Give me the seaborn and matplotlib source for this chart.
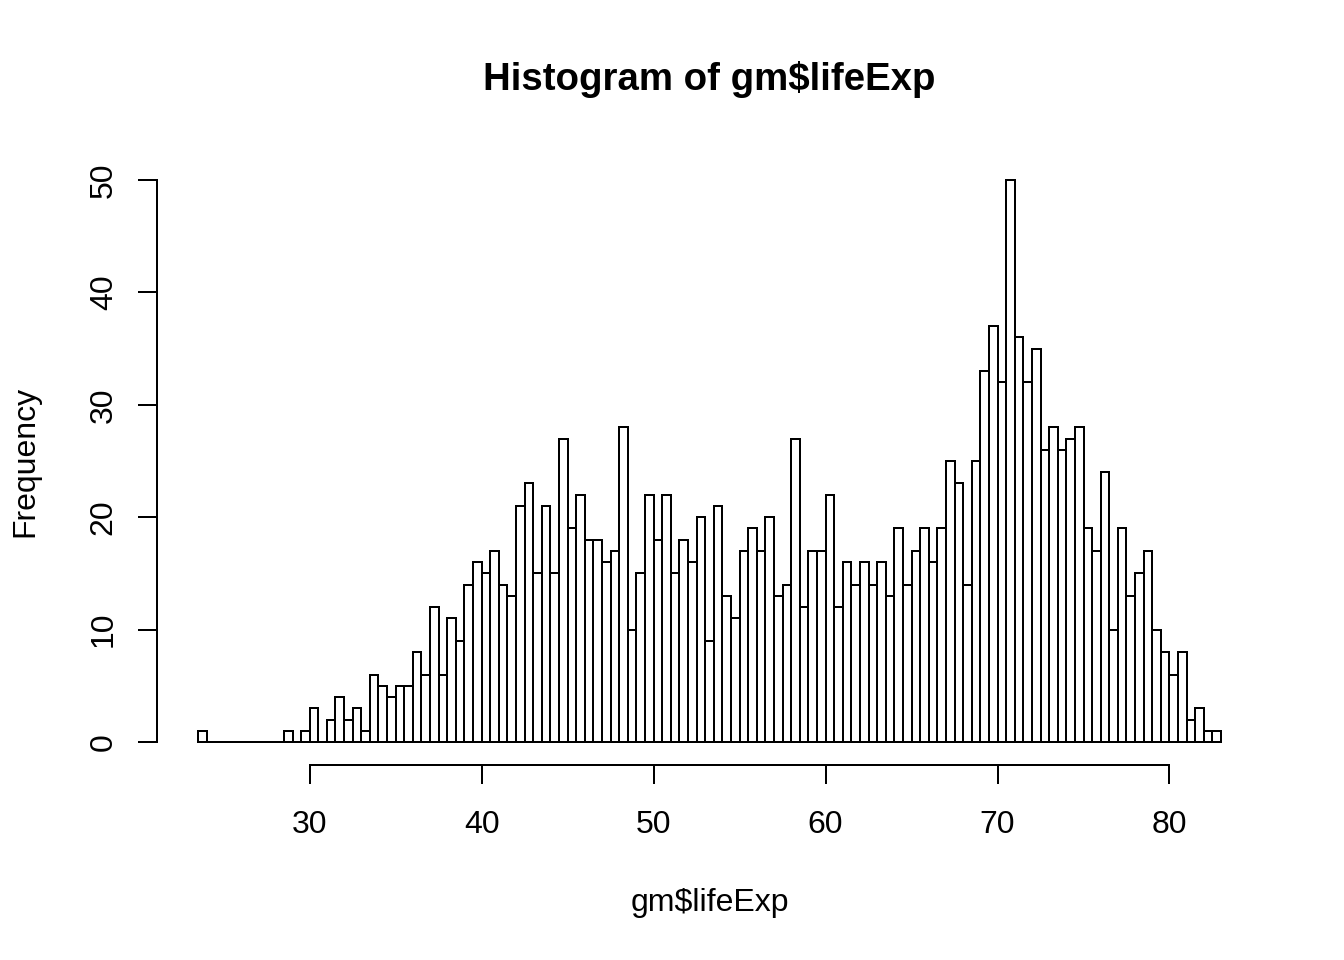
import numpy as np
import pandas as pd
import matplotlib
matplotlib.use('Agg')
import matplotlib.pyplot as plt
import seaborn as sns

# histogram of life expectancy, 0.5-year bins starting at 23.5
bin_start = 23.5
bin_width = 0.5
counts = [1, 0, 0, 0, 0, 0, 0, 0, 0, 0,
          1, 0, 1, 3, 0, 2, 4, 2, 3, 1,
          6, 5, 4, 5, 5, 8, 6, 12, 6, 11,
          9, 14, 16, 15, 17, 14, 13, 21, 23, 15,
          21, 15, 27, 19, 22, 18, 18, 16, 17, 28,
          10, 15, 22, 18, 22, 15, 18, 16, 20, 9,
          21, 13, 11, 17, 19, 17, 20, 13, 14, 27,
          12, 17, 17, 22, 12, 16, 14, 16, 14, 16,
          13, 19, 14, 17, 19, 16, 19, 25, 23, 14,
          25, 33, 37, 32, 50, 36, 32, 35, 26, 28,
          26, 27, 28, 19, 17, 24, 10, 19, 13, 15,
          17, 10, 8, 6, 8, 2, 3, 1, 1]
x_ticks = [30, 40, 50, 60, 70, 80]
y_ticks = [0, 10, 20, 30, 40, 50]

edges = bin_start + bin_width * np.arange(len(counts) + 1)
df = pd.DataFrame({'lifeExp': (edges[:-1] + edges[1:]) / 2, 'n': counts})

sns.set_theme(style='ticks')
plt.rcParams['font.family'] = ['Liberation Sans', 'DejaVu Sans']
plt.rcParams['text.color'] = 'black'
plt.rcParams['axes.labelcolor'] = 'black'
plt.rcParams['axes.edgecolor'] = 'black'
plt.rcParams['xtick.color'] = 'black'
plt.rcParams['ytick.color'] = 'black'

fig = plt.figure(figsize=(13.44, 9.6), dpi=100)
ax = fig.add_axes([157 / 1344, 1 - 764.5 / 960, 1105 / 1344, 607 / 960])

sns.histplot(data=df, x='lifeExp', weights='n', bins=edges.tolist(), ax=ax,
             color='white', edgecolor='black', linewidth=1.44, alpha=1)

ax.set_xlim(21.12, 85.38)
ax.set_ylim(-2, 52)
ax.set_xticks(x_ticks)
ax.set_yticks(y_ticks)
for s in ['top', 'right']:
    ax.spines[s].set_visible(False)
ax.spines['left'].set_bounds(0, 50)
ax.spines['bottom'].set_bounds(30, 80)
ax.spines['left'].set_linewidth(1.44)
ax.spines['bottom'].set_linewidth(1.44)
ax.tick_params(axis='both', length=13.8, width=1.44, labelsize=23,
               color='black', labelcolor='black')
ax.tick_params(axis='x', pad=19.3)
ax.tick_params(axis='y', pad=13.7, labelrotation=90)
for lab in ax.get_yticklabels():
    lab.set_va('center')

ax.set_xlabel('gm$lifeExp', fontsize=23, color='black')
ax.xaxis.set_label_coords(0.5, (764.5 - 903) / 607)
ax.xaxis.label.set_va('center')
ax.set_ylabel('Frequency', fontsize=23, color='black')
ax.yaxis.set_label_coords((25 - 157) / 1105, 0.5)
ax.yaxis.label.set_va('center')
ax.set_title('Histogram of gm$lifeExp', fontsize=27.6, fontweight='bold',
             color='black', y=(764.5 - 88) / 607, va='center')

fig.savefig('out.png', dpi=100, facecolor='white')
